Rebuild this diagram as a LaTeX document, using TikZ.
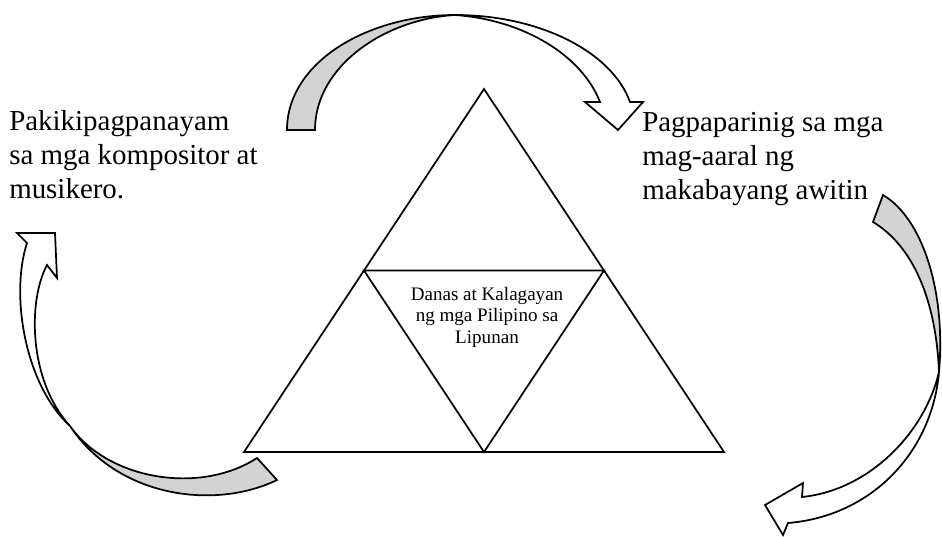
\documentclass[tikz,border=0pt]{standalone}
\usepackage{fontspec}
\setmainfont{Liberation Serif}
\begin{document}
\begin{tikzpicture}[x=0.75pt,y=-0.75pt,
  outline/.style={draw=black,line width=1.3pt,line join=miter},
  backband/.style={outline,fill=bandgray},
  frontband/.style={outline,fill=white},
  sidetext/.style={inner sep=0pt,align=left,font=\fontsize{21.7}{25.5}\selectfont},
  centertext/.style={inner sep=0pt,align=center,font=\fontsize{14.3}{16.1}\selectfont}]
\definecolor{bandgray}{RGB}{211,211,211}
\useasboundingbox (0,0) rectangle (942,536);

% nested triangles
\coordinate (apex) at (484,89);
\coordinate (bl) at (244,452);
\coordinate (br) at (724,452);
\coordinate (ml) at (364,270.5);
\coordinate (mr) at (604,270.5);
\coordinate (mb) at (484,452);
\draw[outline] (apex) -- (br) -- (bl) -- cycle;
\draw[outline] (ml) -- (mr) -- (mb) -- cycle;

\node[centertext,anchor=north] (core) at (487,287)
  {Danas at Kalagayan\\ng mga Pilipino sa\\Lipunan};

% side texts
\node[sidetext,anchor=north west] (left) at (9,110)
  {Pakikipagpanayam\\sa mga kompositor at\\musikero.};
\node[sidetext,anchor=north west] (right) at (642,112)
  {Pagpaparinig sa mga\\mag-aaral ng\\makabayang awitin};

% top curved arrow
\coordinate (tp) at (455,15);
\path[backband] (287,130) .. controls (287,62) and (368,15) .. (tp)
  .. controls (385,19) and (315,66) .. (315,130) -- cycle;
\path[frontband] (tp) .. controls (540,15) and (612,52) .. (630,102)
  -- (643,102) -- (618,130) -- (585,102) -- (600,102)
  .. controls (582,56) and (525,20) .. (tp) -- cycle;

% right curved arrow
\coordinate (rp) at (939,372);
\path[backband] (883,195) .. controls (922,218) and (946,290) .. (rp)
  .. controls (936,300) and (913,246) .. (873,222) -- cycle;
\path[frontband] (rp) .. controls (925,432) and (870,490) .. (802,497)
  -- (803,483) -- (765,505) -- (783,535) -- (788,523)
  .. controls (872,516) and (932,452) .. (rp) -- cycle;

% left curved arrow
\coordinate (lp) at (70,426);
\path[backband] (257,458) .. controls (200,495) and (108,480) .. (lp)
  .. controls (118,498) and (215,510) .. (277,480) -- cycle;
\path[frontband] (lp) .. controls (25,385) and (10,295) .. (27,243)
  -- (17,233) -- (55,233) -- (57,278) -- (47,265)
  .. controls (28,300) and (28,380) .. (lp) -- cycle;
\end{tikzpicture}
\end{document}
